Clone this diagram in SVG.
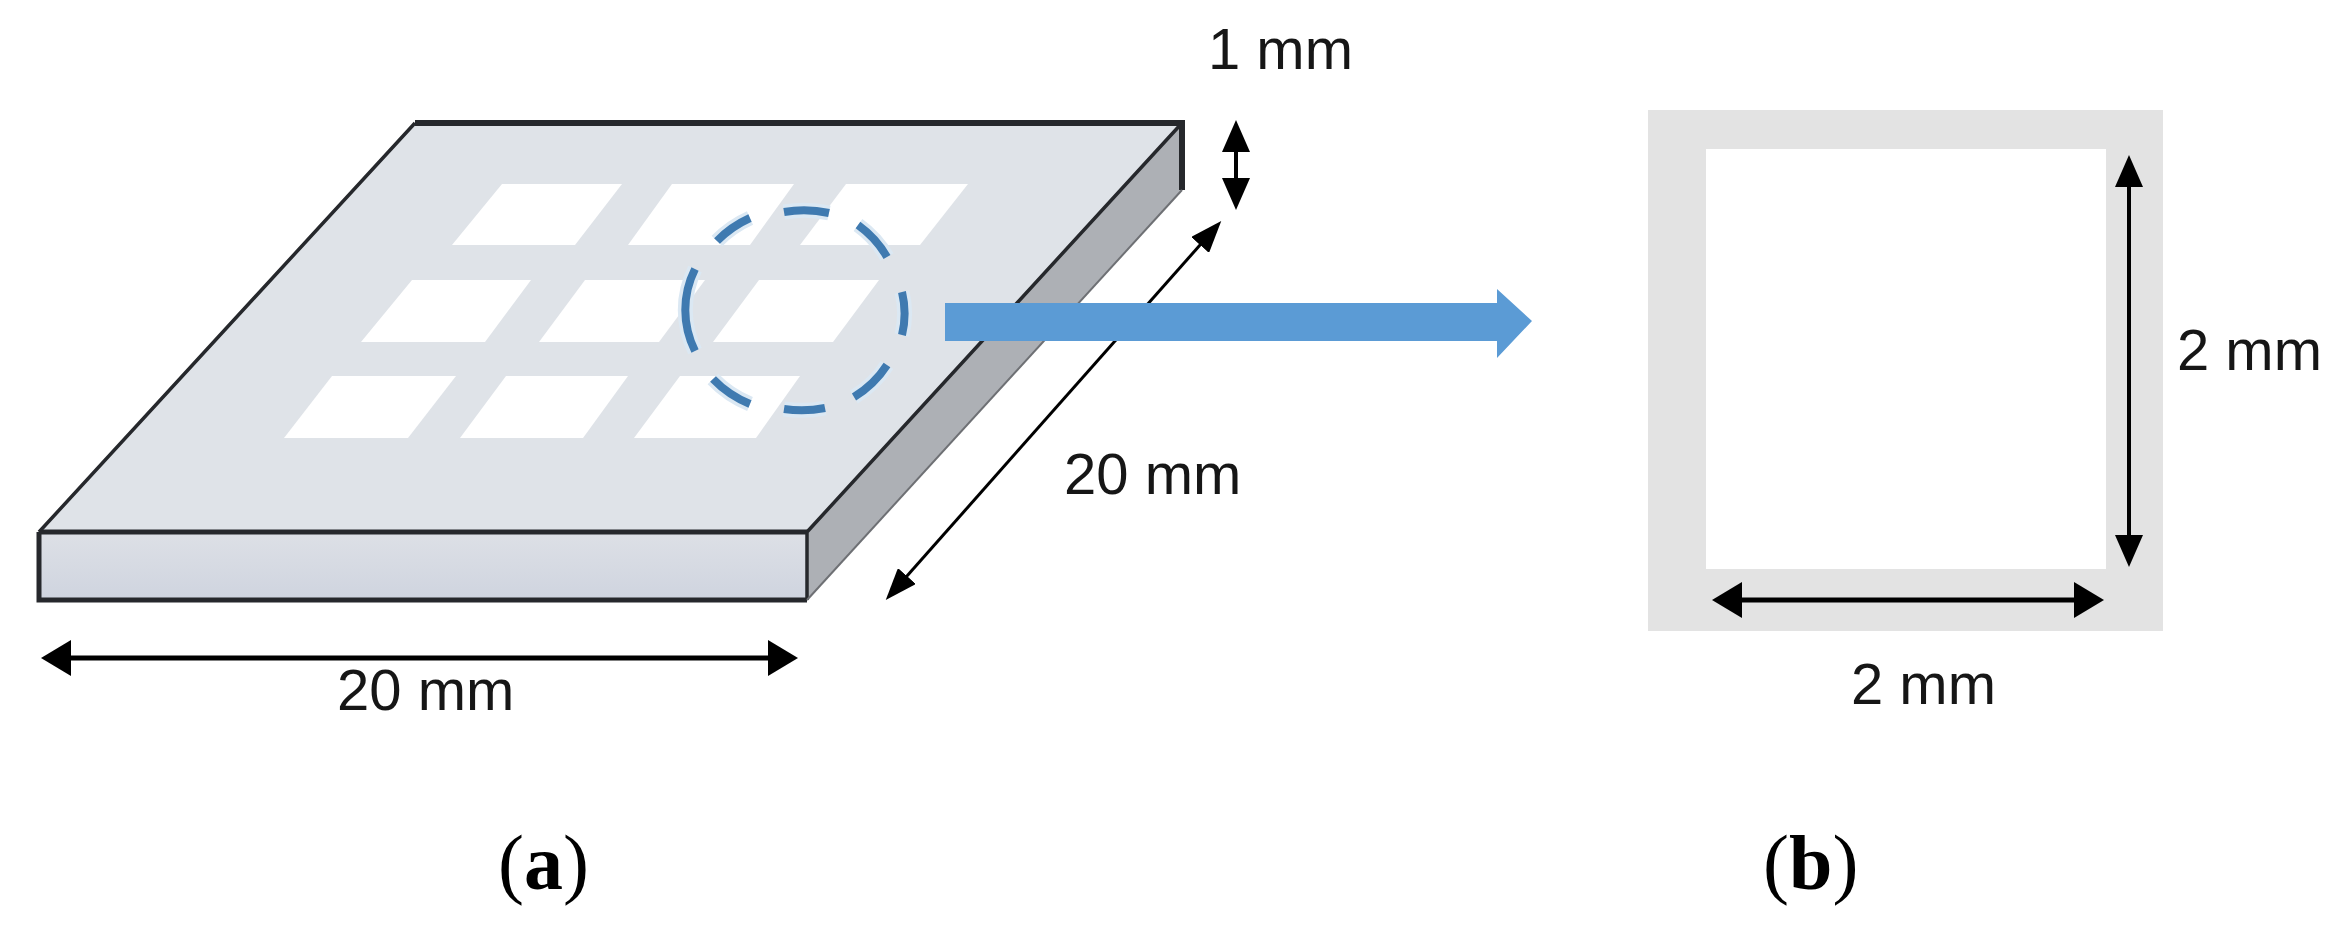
<svg xmlns="http://www.w3.org/2000/svg" width="2346" height="936" viewBox="0 0 2346 936">
<style>
.dim{font-family:"Liberation Sans",Arial,sans-serif;font-size:58px;fill:#161616}
.cap{font-family:"Liberation Serif","Times New Roman",serif;font-size:78px;fill:#000}
.cap tspan{font-weight:bold}
.win{fill:#fff}
.edge{fill:none;stroke:#26282c;stroke-linejoin:miter}
.dash{fill:none;stroke:#3f7ab0;stroke-width:8}
.halo{fill:none;stroke:#dbe8f3;stroke-width:15}
.ah{stroke:#000;fill:none}
</style>
<defs>
<linearGradient id="front" x1="0" y1="0" x2="0" y2="1"><stop offset="0" stop-color="#dde0e6"/><stop offset="1" stop-color="#cfd4df"/></linearGradient>
<path id="dashes" d="M784 212A108 99 0 0 1 829 213M858 225A108 99 0 0 1 887 257M902 292A108 99 0 0 1 902 335M887 365A108 99 0 0 1 854 397M825 408A108 99 0 0 1 784 409M750 404A108 99 0 0 1 713 379M695 351A108 99 0 0 1 695 269M717 241A108 99 0 0 1 750 218"/>
<marker id="hHead" markerUnits="userSpaceOnUse" viewBox="0 -18 30 36" markerWidth="30" markerHeight="36" refX="12" refY="0" orient="auto-start-reverse"><path d="M0-18L30 0L0 18Z" fill="#000"/></marker>
<marker id="vHead" markerUnits="userSpaceOnUse" viewBox="0 -14 32 28" markerWidth="32" markerHeight="28" refX="12" refY="0" orient="auto-start-reverse"><path d="M0-14L32 0L0 14Z" fill="#000"/></marker>
<marker id="dHead" markerUnits="userSpaceOnUse" viewBox="0 -12 32 24" markerWidth="32" markerHeight="24" refX="12" refY="0" orient="auto-start-reverse"><path d="M0-12L32 0L0 12Z" fill="#000"/></marker>
</defs>
<rect width="2346" height="936" fill="#fff"/>
<g id="plate">
<polygon points="415,123 1182,123 807,532 39,532" fill="#dfe3e8"/>
<polygon points="1182,123 1182,190 807,600 807,532" fill="#adb0b5"/>
<rect x="39" y="532" width="768" height="68" fill="url(#front)"/>
<g class="win">
<polygon points="502,184 622,184 575,245 452,245"/>
<polygon points="672,184 794,184 750,245 628,245"/>
<polygon points="846,184 968,184 920,245 800,245"/>
<polygon points="412,280 531,280 485,342 361,342"/>
<polygon points="585,280 705,280 659,342 539,342"/>
<polygon points="759,280 879,280 833,342 713,342"/>
<polygon points="332,376 456,376 408,438 284,438"/>
<polygon points="506,376 628,376 583,438 460,438"/>
<polygon points="680,376 800,376 756,438 634,438"/>
</g>
<path class="edge" stroke-width="3.5" d="M39 532L415 123M1182 123L807 532V600"/>
<path class="edge" stroke-width="6" d="M415 123H1182V190"/>
<path class="edge" stroke-width="5" d="M39 532H807M39 532V600H807"/>
<path d="M1182 190L807 600" fill="none" stroke="#6e7074" stroke-width="2"/>
</g>
<g id="detail-circle">
<use href="#dashes" class="halo"/>
<use href="#dashes" class="dash"/>
</g>
<g id="unit-cell">
<rect x="1648" y="110" width="515" height="521" fill="#e3e3e3"/>
<rect x="1706" y="149" width="400" height="420" fill="#fff"/>
</g>
<g id="connectors">
<line class="ah" stroke-width="3" x1="899" y1="585" x2="1208" y2="236" marker-start="url(#dHead)" marker-end="url(#dHead)"/>
<line class="ah" stroke-width="5" x1="59" y1="658" x2="780" y2="658" marker-start="url(#hHead)" marker-end="url(#hHead)"/>
<line class="ah" stroke-width="4" x1="1236" y1="140" x2="1236" y2="190" marker-start="url(#vHead)" marker-end="url(#vHead)"/>
<line class="ah" stroke-width="4" x1="2129" y1="175" x2="2129" y2="547" marker-start="url(#vHead)" marker-end="url(#vHead)"/>
<line class="ah" stroke-width="5" x1="1730" y1="600" x2="2086" y2="600" marker-start="url(#hHead)" marker-end="url(#hHead)"/>
<polygon id="blue-arrow" points="945,303 1497,303 1497,289 1532,321 1497,358 1497,341 945,341" fill="#5b9bd5"/>
</g>
<g id="labels">
<text class="dim" x="1208" y="69">1 mm</text>
<text class="dim" x="1064" y="494">20 mm</text>
<text class="dim" x="337" y="710">20 mm</text>
<text class="dim" x="2177" y="370">2 mm</text>
<text class="dim" x="1851" y="704">2 mm</text>
<text class="cap" x="498" y="889">(<tspan>a</tspan>)</text>
<text class="cap" x="1763" y="889">(<tspan>b</tspan>)</text>
</g>
</svg>
